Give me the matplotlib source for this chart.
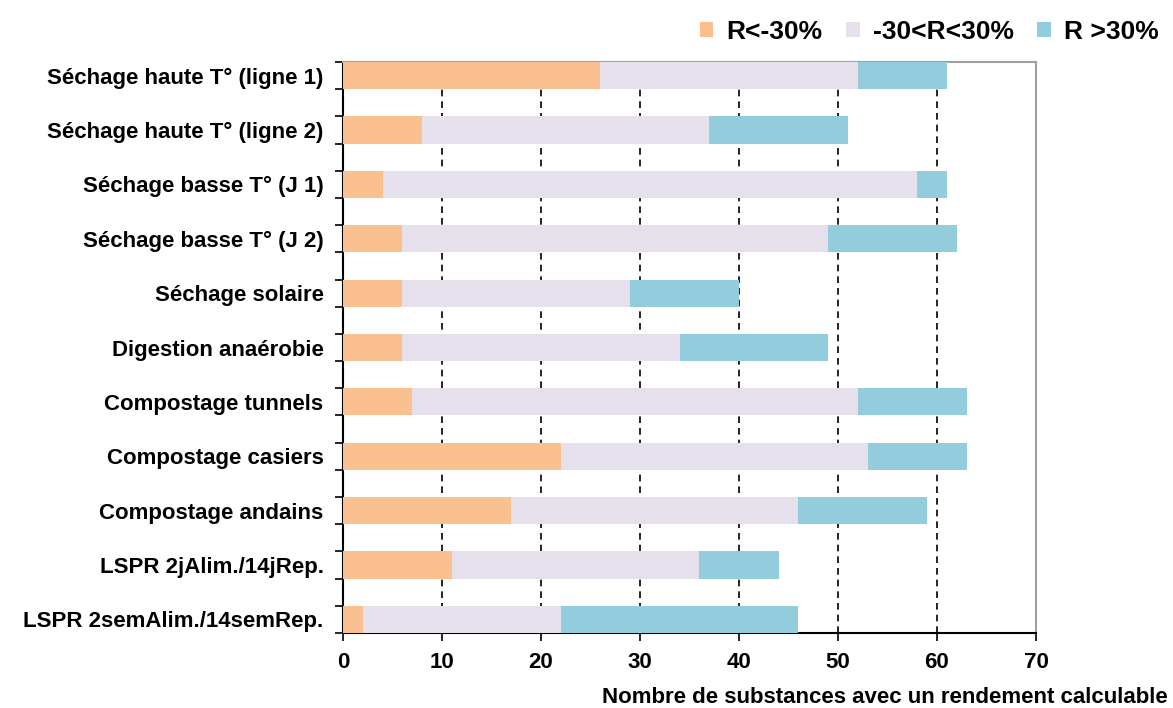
import matplotlib.pyplot as plt
import numpy as np

plt.rcParams['font.family'] = ['Liberation Sans', 'DejaVu Sans']

categories = ['Séchage haute T° (ligne 1)', 'Séchage haute T° (ligne 2)',
              'Séchage basse T° (J 1)', 'Séchage basse T° (J 2)',
              'Séchage solaire', 'Digestion anaérobie', 'Compostage tunnels',
              'Compostage casiers', 'Compostage andains',
              'LSPR 2jAlim./14jRep.', 'LSPR 2semAlim./14semRep.']
r_low = [26, 8, 4, 6, 6, 6, 7, 22, 17, 11, 2]
r_mid = [26, 29, 54, 43, 23, 28, 45, 31, 29, 25, 20]
r_high = [9, 14, 3, 13, 11, 15, 11, 10, 13, 8, 24]
series_names = ['R<-30%', '-30<R<30%', 'R >30%']
colors = ['#FAC090', '#E6E0EC', '#93CDDD']

fig = plt.figure(figsize=(11.73, 7.08), dpi=100)
ax = fig.add_axes([0.2924, 0.1059, 0.5908, 0.8065])

y = np.arange(len(categories))
left = np.zeros(len(categories))
for vals, name, col in zip([r_low, r_mid, r_high], series_names, colors):
    ax.barh(y, vals, left=left, height=0.5, color=col, label=name, zorder=3)
    left += np.array(vals)

ax.set_ylim(len(categories) - 0.75, -0.25)
ax.set_xlim(0, 70)
ax.set_xticks(range(0, 71, 10))
ax.set_yticks(y)
ax.set_yticklabels(categories, fontsize=16, fontweight='bold')
ax.tick_params(axis='y', length=0, pad=14)
# tick marks at bar edges
edges = np.concatenate([y - 0.25, y + 0.25])
ax.set_yticks(edges, minor=True)
ax.tick_params(axis='y', which='minor', length=6, width=1.2, direction='out')
ax.tick_params(axis='x', length=6, width=1.2, direction='out', labelsize=16, pad=8)
for lab in ax.get_xticklabels():
    lab.set_fontweight('bold')

for xv in range(10, 70, 10):
    ax.axvline(xv, color='black', linestyle=(0, (4, 3)), linewidth=1.2, zorder=1)

for s in ['left', 'bottom']:
    ax.spines[s].set_color('black')
    ax.spines[s].set_linewidth(1.5)
for s in ['top', 'right']:
    ax.spines[s].set_color('#A0A0A0')
    ax.spines[s].set_linewidth(1.5)

ax.set_xlabel('Nombre de substances avec un rendement calculable',
              fontsize=16, fontweight='bold')
ax.xaxis.set_label_coords(1.19, -0.095)
ax.xaxis.label.set_horizontalalignment('right')

leg = fig.legend(loc='upper right', bbox_to_anchor=(1.008, 1.005), ncol=3, frameon=False,
                 prop={'size': 19, 'weight': 'bold'}, handlelength=0.5,
                 handleheight=0.5, handletextpad=0.5, columnspacing=0.9)

fig.savefig('out.png', dpi=100)
